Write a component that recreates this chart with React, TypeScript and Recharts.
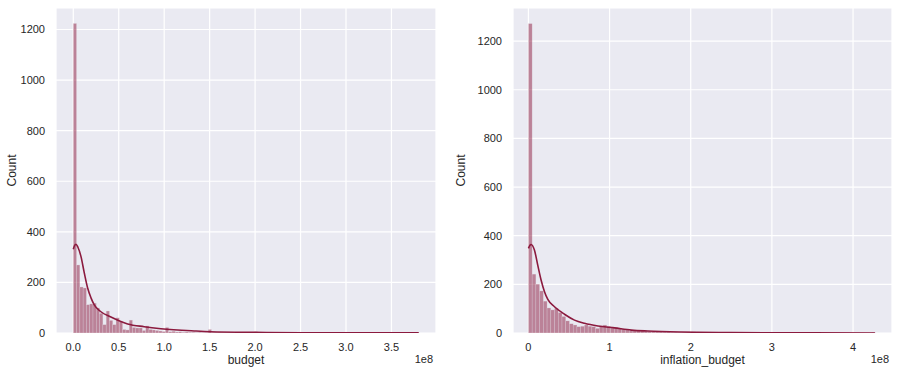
import React from "react";
import { Bar, CartesianGrid, ComposedChart, Label, Line, XAxis, YAxis } from "recharts";

// histogram counts, equal-width bins starting at 0
const BUDGET_BIN = 3.62e6;
const budgetCounts = [
  1224, 269, 182, 178, 112, 115, 118, 99, 78, 33, 87, 50, 33, 60, 45, 14, 12, 51, 22, 20,
  20, 10, 28, 14, 12, 10, 8, 6, 22, 5, 7, 4, 5, 3, 4, 3, 3, 2, 3, 2,
  2, 14, 2, 1, 2, 1, 1, 1, 1, 0, 1, 1, 0, 1, 1, 5, 0, 1, 0, 0,
  1, 0, 0, 0, 1, 0, 0, 0, 0, 1, 0, 0, 0, 0, 0, 0, 0, 1, 0, 0,
  0, 0, 0, 0, 0, 0, 0, 0, 0, 0, 0, 0, 0, 0, 0, 0, 0, 0, 0, 0,
  0, 0, 0, 0, 1,
];

const INFL_BIN = 4.6e6;
const inflationCounts = [
  1272, 242, 201, 173, 131, 103, 95, 102, 84, 68, 50, 38, 33, 26, 28, 33, 28, 26, 19, 29,
  33, 28, 25, 21, 19, 16, 14, 12, 11, 10, 9, 8, 7, 6, 6, 5, 4, 4, 3, 3,
  2, 2, 2, 1, 2, 1, 1, 1, 1, 1, 0, 1, 1, 0, 1, 0, 1, 0, 0, 1,
  0, 0, 0, 1, 0, 0, 0, 0, 1, 0, 0, 0, 0, 0, 0, 0, 0, 0, 0, 0,
  0, 0, 0, 0, 0, 0, 0, 0, 0, 0, 0, 0, 1,
];

// kde curves (x in dollars, y in counts)
const budgetKdeX = [0, 1.5e6, 3e6, 5e6, 8.5e6, 12.1e6, 15.8e6, 19.5e6, 23.1e6, 30.4e6, 41.4e6, 59.8e6, 78e6, 96.4e6, 133e6, 151e6, 200e6, 250e6, 300e6, 380e6];
const budgetKdeY = [331, 346, 351, 340, 302, 238, 178, 139, 111, 84, 63, 36, 25, 17, 8, 5, 2.5, 1.2, 0.6, 0.3];

const inflKdeX = [0, 1.7e6, 3.3e6, 7.4e6, 11.5e6, 15.6e6, 19.8e6, 23.9e6, 32.1e6, 44.4e6, 56.8e6, 69.1e6, 85.6e6, 106e6, 127e6, 147e6, 188e6, 250e6, 300e6, 350e6, 427e6];
const inflKdeY = [348, 360, 364, 341, 279, 218, 170, 138, 108, 77, 53, 40, 29, 21, 12, 8, 4, 2, 1, 0.6, 0.3];

const yTicks = [0, 200, 400, 600, 800, 1000, 1200];
const budgetTicks = [0, 0.5e8, 1e8, 1.5e8, 2e8, 2.5e8, 3e8, 3.5e8];
const inflTicks = [0, 1e8, 2e8, 3e8, 4e8];

const COLOR = "#8B1A3E";
const FONT = "'Liberation Sans', Arial, sans-serif";
const TEXT = "#262626";

function HistKde({
  left, width, counts, bin, kdeX, kdeY, xDomain, xTicks, xFmt, yMax, xLabel, yAxisW, rightM,
}: {
  left: number; width: number; counts: number[]; bin: number; kdeX: number[]; kdeY: number[];
  xDomain: [number, number]; xTicks: number[]; xFmt: (v: number) => string; yMax: number;
  xLabel: string; yAxisW: number; rightM: number;
}) {
  const data = counts.map((c, i) => ({ x: (i + 0.5) * bin, count: c }));
  const kde = kdeX.map((x, i) => ({ x, kde: kdeY[i] }));
  const plotW = width - yAxisW - rightM;
  const barW = (plotW * bin) / (xDomain[1] - xDomain[0]);
  const tickStyle = { fontSize: 11, fill: TEXT, fontFamily: FONT };

  // bar drawn at recharts' x/y, but with the real bin width in pixels
  const binShape = (p: any) => {
    if (!p.height || p.height <= 0) return <g />;
    const cx = p.x + p.width / 2;
    return (
      <rect
        x={cx - barW / 2}
        y={p.y}
        width={barW}
        height={p.height}
        fill={COLOR}
        fillOpacity={0.5}
        stroke="#EAEAF2"
        strokeOpacity={0.5}
        strokeWidth={0.5}
      />
    );
  };

  return (
    <div style={{ position: "absolute", left, top: 0 }}>
      <ComposedChart
        width={width}
        height={374}
        data={data}
        margin={{ top: 8, right: rightM, bottom: 0, left: 0 }}
        barCategoryGap={0}
        barGap={0}
      >
        <CartesianGrid fill="#EAEAF2" stroke="#ffffff" strokeWidth={1.2} />
        <XAxis
          dataKey="x"
          type="number"
          domain={xDomain}
          allowDataOverflow
          ticks={xTicks}
          tickFormatter={xFmt}
          axisLine={false}
          tickLine={false}
          tickSize={0}
          tickMargin={10}
          height={41}
          tick={tickStyle}
        >
          <Label
            content={(p: any) => {
              const vb = p.viewBox;
              return (
                <g style={{ fontFamily: FONT, fill: TEXT }}>
                  <text x={vb.x + vb.width / 2} y={vb.y + 31} textAnchor="middle" fontSize={12}>
                    {xLabel}
                  </text>
                  <text x={vb.x + vb.width - 3} y={vb.y + 30} textAnchor="end" fontSize={11}>
                    1e8
                  </text>
                </g>
              );
            }}
          />
        </XAxis>
        <YAxis
          type="number"
          domain={[0, yMax]}
          allowDataOverflow
          ticks={yTicks}
          axisLine={false}
          tickLine={false}
          tickSize={0}
          tickMargin={11}
          width={yAxisW}
          tick={tickStyle}
        >
          <Label
            content={(p: any) => {
              const vb = p.viewBox;
              const cx = 12;
              const cy = vb.y + vb.height / 2;
              return (
                <text
                  x={cx}
                  y={cy}
                  transform={`rotate(-90 ${cx} ${cy})`}
                  textAnchor="middle"
                  dominantBaseline="central"
                  fontSize={12}
                  style={{ fontFamily: FONT, fill: TEXT }}
                >
                  Count
                </text>
              );
            }}
          />
        </YAxis>
        <Bar dataKey="count" shape={binShape} isAnimationActive={false} />
        <Line
          data={kde}
          dataKey="kde"
          type="monotone"
          stroke={COLOR}
          strokeWidth={1.6}
          dot={false}
          activeDot={false}
          isAnimationActive={false}
        />
      </ComposedChart>
    </div>
  );
}

export default function App() {
  return (
    <div style={{ position: "absolute", left: 0, top: 0, width: 899, height: 374, background: "#fff" }}>
      <HistKde
        left={0}
        width={449}
        counts={budgetCounts}
        bin={BUDGET_BIN}
        kdeX={budgetKdeX}
        kdeY={budgetKdeY}
        xDomain={[-0.19e8, 3.99e8]}
        xTicks={budgetTicks}
        xFmt={(v) => (v / 1e8).toFixed(1)}
        yMax={1285}
        xLabel="budget"
        yAxisW={56}
        rightM={13}
      />
      <HistKde
        left={449}
        width={450}
        counts={inflationCounts}
        bin={INFL_BIN}
        kdeX={inflKdeX}
        kdeY={inflKdeY}
        xDomain={[-0.19e8, 4.48e8]}
        xTicks={inflTicks}
        xFmt={(v) => String(Math.round(v / 1e8))}
        yMax={1336}
        xLabel="inflation_budget"
        yAxisW={64}
        rightM={7}
      />
    </div>
  );
}
